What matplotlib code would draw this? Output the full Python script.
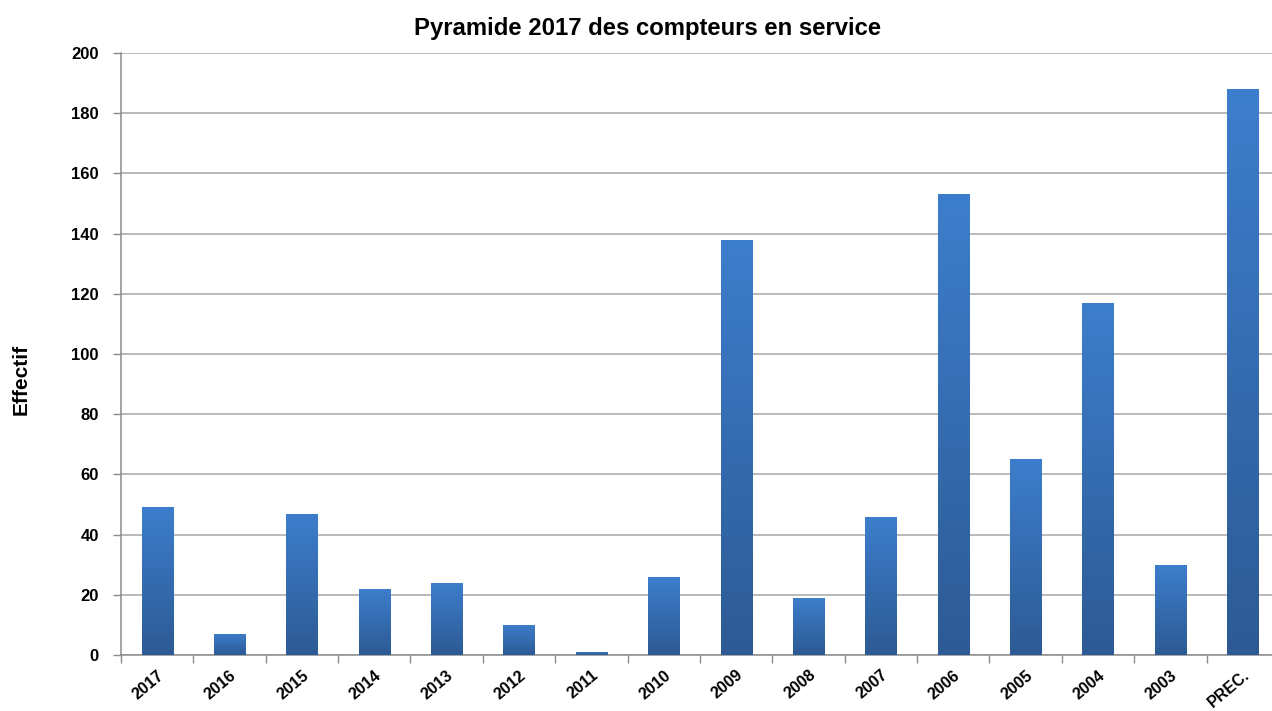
import matplotlib
matplotlib.use("Agg")
import matplotlib.pyplot as plt
import numpy as np
from matplotlib.colors import LinearSegmentedColormap

annees = ["2017", "2016", "2015", "2014", "2013", "2012", "2011", "2010",
          "2009", "2008", "2007", "2006", "2005", "2004", "2003", "PREC."]
effectifs = [49, 7, 47, 22, 24, 10, 1, 26, 138, 19, 46, 153, 65, 117, 30, 188]

plt.rcParams['font.family'] = ['Liberation Sans', 'DejaVu Sans']

fig = plt.figure(figsize=(12.72, 7.11), dpi=100)
# l'axe depasse un peu a droite, comme dans l'original
ax = fig.add_axes([0.0951, 0.0788, 0.9104, 0.8467])

x = np.arange(len(annees))
barres = ax.bar(x, effectifs, width=0.43, color='none', edgecolor='none', zorder=3)

# degrade vertical dans chaque barre
cmap = LinearSegmentedColormap.from_list('bleu', ['#2D5A94', '#3D7ECC'])
grad = np.linspace(0, 1, 256).reshape(-1, 1)
for b in barres:
    bx, by = b.get_x(), b.get_y()
    w, h = b.get_width(), b.get_height()
    im = ax.imshow(grad, cmap=cmap, aspect='auto', origin='lower',
                   extent=[bx, bx + w, by, by + h], zorder=3)
    im.set_clip_path(b)

ax.set_xlim(-0.5, len(annees) - 0.5)
ax.set_ylim(0, 200)
ax.set_yticks(range(0, 201, 20))
ax.yaxis.grid(True, color='#A6A6A6', linewidth=1.1)
ax.set_axisbelow(True)

ax.set_xticks(np.arange(-0.5, len(annees), 1))
ax.set_xticklabels([])
ax.set_xticks(x, minor=True)
ax.set_xticklabels(annees, minor=True, rotation=40, ha='right', rotation_mode='anchor',
                   fontsize=11.5, fontweight='bold')
ax.tick_params(axis='x', which='minor', length=0, pad=9)
ax.tick_params(axis='x', which='major', length=6, color='#8C8C8C', width=1)
ax.tick_params(axis='y', length=6, color='#8C8C8C', width=1, labelsize=12, pad=10)
for lab in ax.get_yticklabels():
    lab.set_fontweight('bold')

for s in ['top', 'right']:
    ax.spines[s].set_visible(False)
for s in ['left', 'bottom']:
    ax.spines[s].set_color('#8C8C8C')
    ax.spines[s].set_linewidth(1.1)

fig.text(0.0165, 0.466, 'Effectif', rotation=90, ha='center', va='center',
         fontsize=15, fontweight='bold')
fig.text(0.509, 0.96, 'Pyramide 2017 des compteurs en service', ha='center', va='center',
         fontsize=17.2, fontweight='bold')

fig.savefig('out.png', dpi=100)
